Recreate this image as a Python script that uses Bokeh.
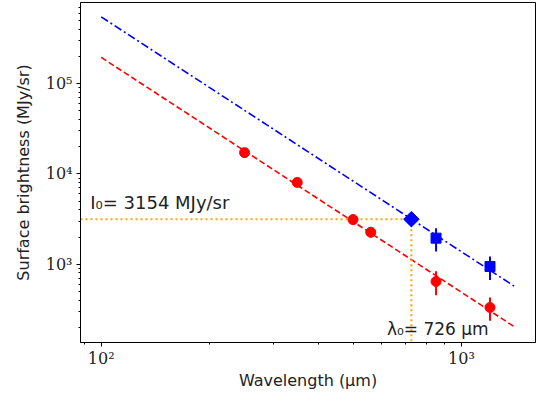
import math
from bokeh.plotting import figure
from bokeh.models import Range1d, FixedTicker, Label
from bokeh.embed import file_html
from bokeh.resources import INLINE

# ---- data ----
red_wl = [250, 350, 500, 560, 850, 1200]
red_I = [17200, 8050, 3120, 2260, 644, 332]
red_err = [2000, 950, 400, 290, 190, 95]

blue_wl = [850, 1200]
blue_I = [1945, 944]
blue_err = [560, 275]

lam0 = 726
I0 = 3154
I0_err = 300

fit_wl = [100, 1400]
fit_blue = [547000, 573]
fit_red = [195000, 204]

x_lim = [87.6, 1605]
y_lim = [136, 790000]

x_major = [100, 1000]
x_minor = [90, 200, 300, 400, 500, 600, 700, 800, 900]
y_major = [1000, 10000, 100000]
y_minor = [200, 300, 400, 500, 600, 700, 800, 900,
           2000, 3000, 4000, 5000, 6000, 7000, 8000, 9000,
           20000, 30000, 40000, 50000, 60000, 70000, 80000, 90000,
           200000, 300000, 400000, 500000, 600000, 700000]
x_labels = {100: "10²", 1000: "10³"}
y_labels = {1000: "10³", 10000: "10⁴", 100000: "10⁵"}

p = figure(width=539, height=392, x_axis_type="log", y_axis_type="log",
           x_range=Range1d(*x_lim), y_range=Range1d(*y_lim),
           output_backend="svg", toolbar_location=None,
           min_border_left=80, min_border_right=4, min_border_top=2, min_border_bottom=40)

p.xgrid.visible = False
p.ygrid.visible = False
p.outline_line_color = "black"
p.outline_line_width = 1
p.outline_line_alpha = 1

p.xaxis.ticker = FixedTicker(ticks=x_major, minor_ticks=x_minor)
p.yaxis.ticker = FixedTicker(ticks=y_major, minor_ticks=y_minor)
p.xaxis.major_label_overrides = x_labels
p.yaxis.major_label_overrides = y_labels

for ax in (p.xaxis[0], p.yaxis[0]):
    ax.major_tick_in = 0
    ax.major_tick_out = 4
    ax.minor_tick_in = 0
    ax.minor_tick_out = 2
    ax.axis_line_color = "black"
    ax.major_tick_line_color = "black"
    ax.minor_tick_line_color = "black"
    ax.major_label_text_font = "DejaVu Serif"
    ax.major_label_text_font_size = "16px"
    ax.major_label_text_color = "#222222"
    ax.axis_label_text_font = "DejaVu Sans"
    ax.axis_label_text_font_size = "16px"
    ax.axis_label_text_font_style = "normal"
    ax.axis_label_text_color = "#222222"

p.xaxis.axis_label = "Wavelength (μm)"
p.yaxis.axis_label = "Surface brightness (MJy/sr)"
p.xaxis.major_label_standoff = 2
p.yaxis.major_label_standoff = 4
p.xaxis.axis_label_standoff = 0
p.yaxis.axis_label_standoff = 10

# fit lines
p.line(fit_wl, fit_blue, line_color="blue", line_width=1.6, line_dash="8 3 2 3")
p.line(fit_wl, fit_red, line_color="red", line_width=1.6, line_dash="6 3")

# orange guide lines
p.line([x_lim[0], lam0], [I0, I0], line_color="orange", line_width=2, line_dash="2 3")
p.line([lam0, lam0], [I0, y_lim[0]], line_color="orange", line_width=2, line_dash="2 3")

# error bars
p.segment(x0=red_wl, x1=red_wl,
          y0=[v - e for v, e in zip(red_I, red_err)],
          y1=[v + e for v, e in zip(red_I, red_err)],
          line_color="red", line_width=2)
p.segment(x0=blue_wl, x1=blue_wl,
          y0=[v - e for v, e in zip(blue_I, blue_err)],
          y1=[v + e for v, e in zip(blue_I, blue_err)],
          line_color="blue", line_width=2)
p.segment(x0=[lam0], x1=[lam0], y0=[I0 - I0_err], y1=[I0 + I0_err],
          line_color="blue", line_width=2)

# markers
p.scatter(red_wl, red_I, marker="circle", size=10, fill_color="red", line_color="red")
p.scatter(blue_wl, blue_I, marker="square", size=10, fill_color="blue", line_color="blue")
p.scatter([lam0], [I0], marker="square", size=11, angle=math.pi / 4,
          fill_color="blue", line_color="blue")

p.add_layout(Label(x=93.2, y=4800, text="I₀= 3154 MJy/sr",
                   text_font="DejaVu Sans", text_font_size="18px",
                   text_color="#222222", text_baseline="alphabetic"))
p.add_layout(Label(x=621, y=190, text="λ₀= 726 μm",
                   text_font="DejaVu Sans", text_font_size="17px",
                   text_color="#222222", text_baseline="alphabetic"))

open("out.html", "w").write(file_html(p, INLINE))
